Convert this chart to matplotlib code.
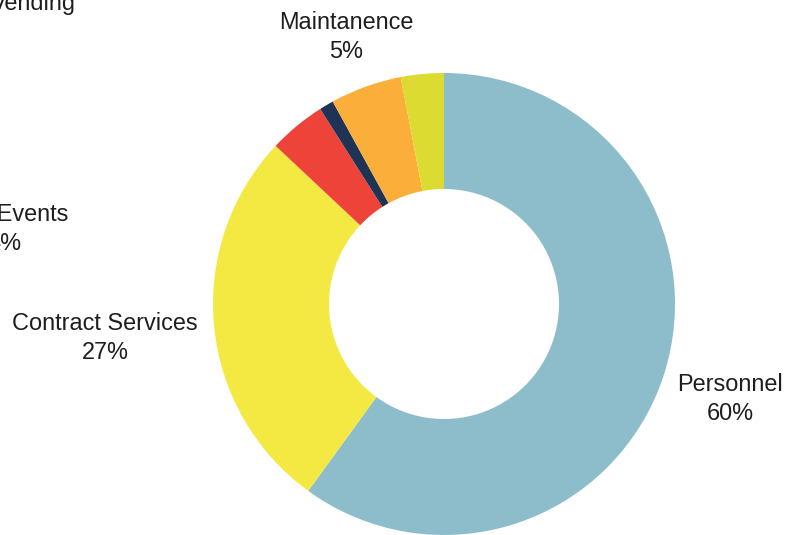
import matplotlib
matplotlib.use("Agg")
import matplotlib.pyplot as plt

categories = ["Personnel", "Contract Services", "Staff Events", "Vending", "Maintanence", "Other"]
values = [60, 27, 4, 1, 5, 3]
colors = ["#8DBDCB", "#F4E943", "#EE4339", "#1F3354", "#FBAE39", "#DCDB31"]

# label texts shown
label_texts = {
    "Personnel": "Personnel\n60%",
    "Contract Services": "Contract Services\n27%",
    "Staff Events": "Staff Events\n4%",
    "Vending": "Vending",
    "Maintanence": "Maintanence\n5%",
}

W, H = 803, 535
fig = plt.figure(figsize=(W / 100, H / 100), dpi=100)
ax = fig.add_axes([0, 0, 1, 1])

cx, cy, R = 444, H - 304, 231
ax.pie(values, colors=colors, startangle=90, counterclock=False,
       center=(cx, cy), radius=R,
       wedgeprops=dict(width=116, linewidth=0, edgecolor="none"))

# label positions in pixel coordinates (x, y from top)
label_pos = {
    "Personnel": (730, 399),
    "Contract Services": (105, 338),
    "Staff Events": (5, 229),
    "Vending": (33, 3),
    "Maintanence": (346, 37),
}
for name, txt in label_texts.items():
    x, y = label_pos[name]
    ax.text(x, H - y, txt, ha="center", va="center", fontsize=16.9,
            family="Liberation Sans", color="#1e1e1e", linespacing=1.33)

ax.set_xlim(0, W)
ax.set_ylim(0, H)
ax.set_aspect("equal")
ax.axis("off")
fig.savefig("out.png", dpi=100)
